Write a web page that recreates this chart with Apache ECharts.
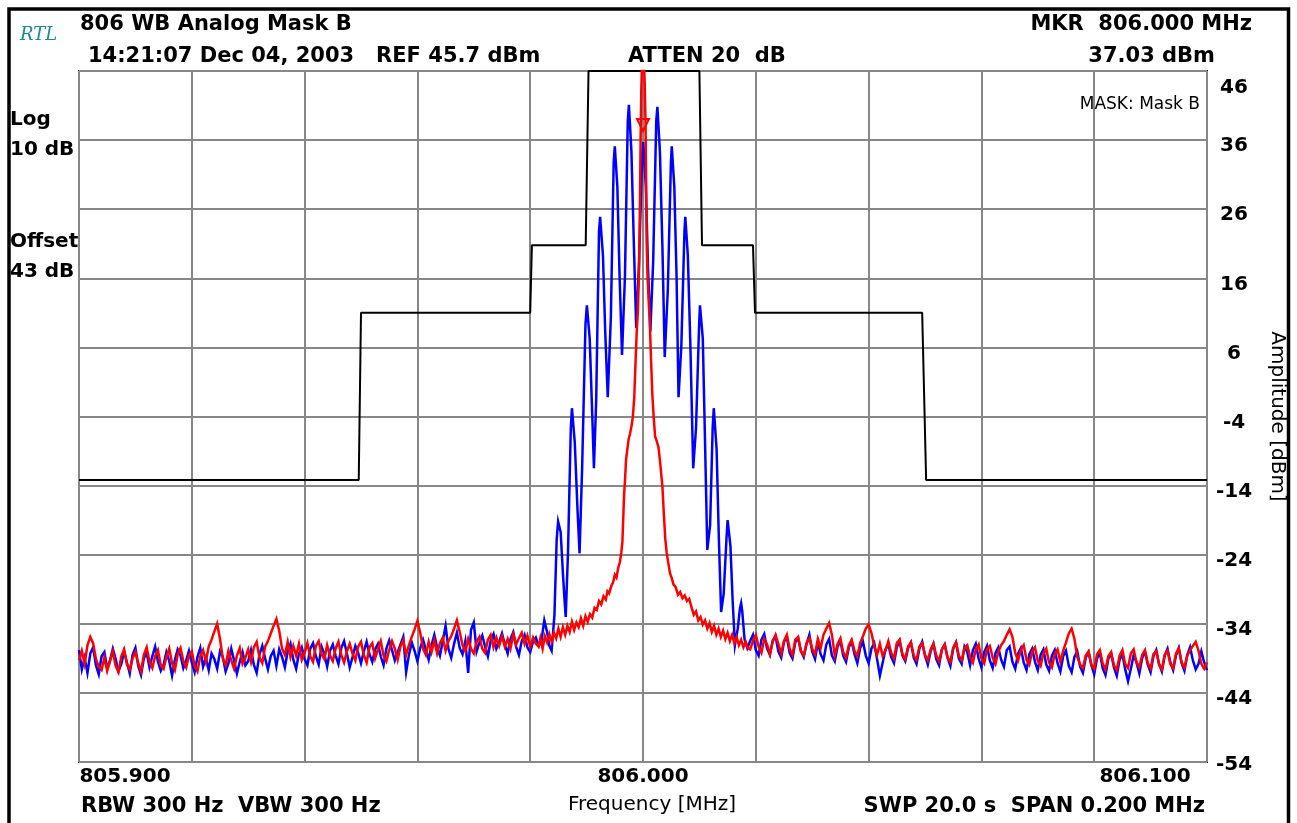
<!DOCTYPE html>
<html>
<head>
<meta charset="utf-8">
<script src="https://cdn.jsdelivr.net/npm/echarts@6/dist/echarts.min.js"></script>
<style>
  html, body { margin: 0; padding: 0; background: #ffffff; }
  #chart { width: 1297px; height: 823px; }
</style>
</head>
<body>
<div id="chart"></div>
<script>
// ---------------- data (frequencies are kHz offsets from 806.000 MHz, levels in dBm) ----------------
const REF_LEVEL_DBM = 45.7;           // top of the screen
const BOTTOM_DBM = REF_LEVEL_DBM - 100; // 10 div x 10 dB
const NOISE_STEP_KHZ = 0.5;
const NOISE_LEFT_START_KHZ = -100;
const NOISE_RIGHT_START_KHZ = 19;

const xLabelValues = [-100, 0, 100];
const xLabelTexts = ['805.900', '806.000', '806.100'];
const yTickLabels = ['-54', '-44', '-34', '-24', '-14', '-4', '6', '16', '26', '36', '46'];

const maskFreq  = [-100, -50.4, -50.0, -20.0, -19.7, -10.16, -9.66, 10.0, 10.46, 19.5, 19.86, 49.5, 50.2, 100];
const maskLevel = [-13.5, -13.5, 10.7, 10.7, 20.5, 20.5, 45.7, 45.7, 20.5, 20.5, 10.7, 10.7, -13.5, -13.5];

const blueNoiseLeft = [
  -38.1,-40.9,-39.2,-41.4,-38.6,-37.7,-40.3,-41.6,-39.0,-38.4,
  -40.8,-39.6,-37.9,-39.4,-41.2,-40.1,-38.3,-39.9,-41.5,-38.8,
  -37.8,-40.4,-41.7,-39.3,-38.5,-40.6,-39.0,-37.6,-39.8,-41.1,
  -40.2,-38.4,-39.7,-41.8,-39.5,-38.0,-38.9,-40.7,-39.6,-38.2,
  -39.9,-41.3,-39.1,-37.8,-40.5,-39.2,-41.0,-38.6,-39.4,-40.8,
  -38.3,-39.1,-41.2,-40.0,-37.9,-39.6,-41.5,-39.8,-38.4,-40.3,
  -39.7,-38.1,-40.2,-41.4,-38.7,-37.5,-39.3,-40.9,-39.0,-38.2,
  -40.4,-38.0,-39.1,-40.6,-38.3,-37.2,-39.5,-40.8,-38.6,-37.7,
  -39.4,-40.3,-37.9,-37.1,-39.0,-40.2,-37.6,-38.7,-40.5,-38.2,
  -37.3,-38.9,-40.1,-37.8,-36.8,-38.6,-40.6,-39.1,-37.5,-38.5,
  -40.0,-38.3,-36.9,-38.7,-39.8,-38.0,-37.2,-39.0,-40.3,-37.9,
  -36.7,-38.1,-39.6,-38.4,-37.3,-36.2,-41.3,-38.8,-37.0,-38.2,
  -39.7,-37.8,-36.6,-38.1,-39.5,-37.4,-35.9,-37.7,-38.9,-36.8,
  -34.6,-37.9,-39.2,-37.2,-35.6,-37.8,-38.7,-36.8,-41.4,-35.2,
  -34.1,-38.3,-37.0,-36.0,-37.6,-39.0,-36.7,-35.8,-37.9,-36.9,
  -35.7,-37.3,-38.6,-36.5,-35.5,-37.6,-38.8,-36.8,-35.9,-37.7,
  -38.4,-36.9,-36.3
];
const blueComb = [
  [-18.5,-37.5],[-18.0,-36.8],
  [-17.8,-35.5],[-17.5,-33.8],[-17.3,-33.6],[-17.0,-35.5],[-16.6,-37.5],[-16.2,-38.2],
  [-15.7,-33.0],[-15.3,-22.0],[-15.05,-19.5],[-14.85,-19.3],[-14.6,-21.0],[-14.2,-27.0],[-13.9,-31.0],[-13.7,-33.3],
  [-13.3,-24.0],[-12.8,-6.0],[-12.6,-3.1],[-12.4,-3.3],[-12.1,-8.0],[-11.6,-18.0],[-11.25,-24.1],
  [-10.8,-12.0],[-10.2,9.0],[-9.95,11.8],[-9.75,11.6],[-9.45,7.0],[-9.0,-4.0],[-8.7,-11.8],
  [-8.3,-2.0],[-7.8,22.5],[-7.6,24.6],[-7.4,24.4],[-7.1,19.0],[-6.7,8.0],[-6.25,-1.5],
  [-5.7,10.0],[-5.2,32.5],[-5.0,34.8],[-4.85,34.6],[-4.55,29.0],[-4.15,16.0],[-3.72,4.6],
  [-3.2,16.0],[-2.7,38.5],[-2.5,40.8],[-2.35,40.6],[-2.05,34.0],[-1.6,20.0],[-1.2,8.5],
  [-0.7,18.0],[-0.15,33.5],[0.05,35.4],[0.2,35.2],[0.5,29.0],[0.9,17.0],[1.3,8.0],
  [1.8,18.0],[2.35,38.5],[2.55,40.5],[2.7,40.3],[3.0,34.0],[3.45,20.0],[3.85,4.3],
  [4.4,14.0],[4.95,32.5],[5.1,34.8],[5.25,34.6],[5.55,29.0],[5.95,16.0],[6.3,-1.5],
  [6.8,6.0],[7.35,22.5],[7.5,24.6],[7.65,24.4],[7.95,19.0],[8.4,6.0],[8.9,-11.8],
  [9.4,-6.0],[9.95,9.0],[10.1,11.8],[10.3,11.6],[10.6,7.0],[11.0,-8.0],[11.4,-23.6],
  [11.9,-20.0],[12.35,-6.0],[12.55,-3.1],[12.75,-3.3],[13.05,-9.0],[13.45,-22.0],[13.85,-32.6],
  [14.3,-30.0],[14.8,-22.0],[15.0,-19.3],[15.2,-19.5],[15.5,-23.0],[15.9,-31.0],[16.3,-37.4],
  [16.8,-35.0],[17.2,-32.0],[17.4,-31.3],[17.6,-32.5],[18.0,-36.5],[18.5,-37.8]
];
const blueNoiseRight = [
  -36.8,-35.9,-38.1,-38.9,-36.6,-35.8,-37.9,-38.8,-36.7,-36.1,
  -38.3,-39.2,-36.9,-36.2,-38.5,-39.3,-37.0,-36.3,-38.2,-39.1,
  -37.2,-35.9,-38.3,-39.4,-37.0,-38.7,-39.6,-37.3,-36.5,-38.9,
  -39.7,-37.6,-36.8,-38.9,-39.8,-37.7,-36.9,-38.7,-40.0,-37.8,
  -36.9,-38.9,-40.0,-37.9,-37.1,-39.4,-41.8,-39.9,-38.0,-37.3,
  -39.1,-40.0,-37.7,-36.8,-38.9,-39.7,-37.8,-37.0,-39.2,-40.1,
  -37.9,-36.9,-38.9,-40.2,-38.3,-37.2,-39.4,-40.3,-38.0,-37.3,
  -39.2,-40.4,-37.9,-37.0,-39.3,-40.1,-37.6,-38.4,-40.3,-38.1,
  -37.2,-39.3,-40.6,-38.4,-37.5,-39.6,-40.7,-38.5,-37.7,-39.5,
  -40.5,-38.1,-37.6,-39.8,-40.8,-38.6,-37.8,-39.9,-41.0,-38.7,
  -37.9,-39.8,-41.0,-38.8,-38.0,-40.2,-41.1,-38.9,-38.1,-40.0,
  -41.2,-39.0,-38.2,-40.4,-41.3,-39.1,-38.3,-40.5,-41.4,-39.2,
  -38.4,-40.3,-41.6,-39.3,-38.5,-40.7,-41.7,-39.4,-38.6,-40.6,
  -41.8,-39.5,-38.7,-40.9,-42.6,-40.8,-38.8,-39.9,-41.5,-39.3,
  -38.3,-40.2,-41.3,-39.0,-38.1,-40.1,-41.2,-38.9,-37.9,-39.9,
  -41.0,-38.9,-37.8,-40.0,-41.1,-38.8,-37.7,-39.6,-40.9,-40.1,
  -38.3,-39.9,-41.0
];

const redNoiseLeft = [
  -39.6,-38.2,-40.1,-37.4,-36.2,-37.1,-39.4,-40.5,-41.0,-39.2,
  -41.1,-39.7,-38.3,-40.4,-41.3,-39.0,-38.0,-40.2,-40.9,-39.3,
  -38.4,-40.0,-41.2,-38.8,-37.7,-39.8,-40.7,-39.0,-38.1,-40.3,
  -40.8,-39.1,-37.9,-40.0,-41.0,-38.7,-37.8,-39.7,-40.6,-38.9,
  -38.3,-40.4,-41.2,-39.0,-38.1,-39.8,-37.6,-36.6,-35.4,-34.3,
  -36.5,-39.3,-40.3,-38.2,-39.6,-40.8,-38.9,-37.8,-40.1,-39.2,
  -38.0,-39.8,-37.7,-36.9,-39.2,-40.0,-37.6,-36.8,-35.7,-34.6,
  -33.6,-35.3,-37.9,-38.8,-36.9,-39.1,-37.5,-38.9,-37.2,-39.5,
  -38.5,-37.1,-39.0,-39.8,-37.5,-36.8,-38.7,-39.4,-37.4,-38.9,
  -39.7,-37.9,-36.9,-38.8,-39.9,-38.3,-37.2,-38.6,-39.6,-37.6,
  -36.9,-38.8,-39.9,-37.7,-37.1,-39.3,-38.0,-36.8,-38.9,-39.7,
  -38.1,-36.8,-37.9,-39.5,-37.6,-36.7,-38.8,-37.4,-36.2,-35.1,
  -33.9,-35.6,-37.9,-38.8,-36.9,-38.4,-36.7,-38.6,-37.1,-36.3,
  -38.2,-36.8,-36.1,-35.0,-33.8,-35.5,-37.4,-38.3,-36.5,-37.9,
  -38.6,-36.9,-36.2,-37.9,-38.5,-36.6,-35.9,-37.7,-36.3,-37.5,
  -36.1,-37.6,-36.5,-37.9,-35.8,-37.3,-36.4,-35.6,-37.2,-36.0,
  -37.6,-36.3,-37.2
];
const redCenter = [
  [-18.5,-37.6],[-18.2,-36.4],[-17.8,-37.9],[-17.4,-36.1],[-17.0,-37.0],[-16.6,-35.8],[-16.2,-36.9],
  [-15.8,-35.6],[-15.4,-36.4],[-15.0,-35.0],[-14.6,-36.2],[-14.2,-34.8],[-13.8,-35.9],[-13.4,-34.6],
  [-13.0,-35.5],[-12.6,-34.0],[-12.2,-35.2],[-11.8,-34.1],[-11.4,-34.8],[-11.0,-33.5],[-10.6,-34.6],
  [-10.2,-33.2],[-9.8,-34.0],[-9.4,-32.9],[-9.0,-33.4],[-8.6,-32.0],[-8.2,-32.3],[-7.8,-31.0],
  [-7.4,-31.5],[-7.0,-30.3],[-6.6,-30.8],[-6.3,-29.6],[-6.0,-29.9],[-5.6,-28.8],[-5.3,-28.3],
  [-5.0,-27.2],[-4.7,-27.6],[-4.4,-26.2],[-4.1,-25.4],[-3.85,-24.0],[-3.65,-22.4],[-3.5,-19.0],
  [-3.35,-15.5],[-3.2,-13.7],[-3.0,-10.5],[-2.8,-9.2],[-2.55,-7.6],[-2.3,-6.8],[-2.05,-5.7],
  [-1.8,-4.4],[-1.55,-1.5],[-1.3,4.0],[-1.1,8.2],[-0.9,11.0],[-0.7,17.0],[-0.55,26.0],[-0.42,36.0],
  [-0.3,43.0],[-0.15,47.5],[0.0,49.0],[0.15,47.5],[0.3,44.0],[0.45,38.0],[0.55,30.0],[0.65,21.0],
  [0.8,16.0],[1.0,12.5],[1.2,9.5],[1.4,4.5],[1.65,-1.0],[1.9,-4.5],[2.15,-7.2],[2.45,-7.9],
  [2.75,-8.8],[3.0,-10.6],[3.25,-12.8],[3.45,-14.5],[3.7,-18.5],[3.95,-22.0],[4.2,-24.0],[4.5,-25.6],
  [4.8,-27.0],[5.1,-27.7],[5.4,-28.6],[5.8,-29.0],[6.2,-30.1],[6.6,-29.7],[7.0,-30.6],[7.4,-30.2],
  [7.8,-31.0],[8.2,-30.7],[8.6,-31.9],[9.0,-33.0],[9.4,-32.5],[9.8,-33.8],[10.2,-33.3],[10.6,-34.4],
  [11.0,-33.8],[11.4,-35.0],[11.8,-34.2],[12.2,-35.5],[12.6,-34.6],[13.0,-35.9],[13.4,-35.0],
  [13.8,-36.2],[14.2,-35.3],[14.6,-36.5],[15.0,-35.6],[15.4,-36.8],[15.8,-35.9],[16.2,-37.1],
  [16.6,-36.2],[17.0,-37.4],[17.4,-36.6],[17.8,-37.7],[18.2,-36.9],[18.6,-37.8]
];
const redNoiseRight = [
  -38.0,-36.8,-35.9,-37.6,-38.5,-36.5,-37.3,-38.7,-36.9,-35.9,
  -37.2,-38.6,-36.8,-35.9,-37.9,-38.8,-36.6,-36.2,-38.3,-38.9,
  -37.1,-36.4,-37.9,-38.7,-36.5,-37.8,-35.9,-35.0,-34.2,-35.9,
  -38.9,-37.2,-36.4,-38.4,-39.2,-37.4,-36.6,-38.2,-39.0,-37.1,
  -36.1,-35.0,-34.4,-35.6,-37.6,-38.8,-37.2,-39.0,-38.1,-36.8,
  -38.5,-39.3,-37.1,-36.6,-38.7,-39.4,-37.6,-37.0,-38.9,-39.5,
  -37.6,-37.1,-38.8,-39.6,-38.0,-37.2,-38.9,-39.7,-38.0,-37.3,
  -39.2,-39.8,-37.8,-37.0,-38.9,-39.6,-37.8,-37.4,-39.1,-39.9,
  -38.0,-37.3,-39.3,-40.0,-38.0,-37.5,-39.2,-40.1,-38.3,-37.4,
  -36.8,-35.9,-35.1,-36.2,-38.5,-39.6,-38.1,-37.4,-39.5,-40.2,
  -38.3,-37.7,-39.7,-40.4,-38.6,-37.9,-39.9,-40.6,-38.7,-38.0,
  -39.8,-38.2,-37.0,-35.7,-35.0,-36.5,-39.1,-40.2,-40.7,-38.9,
  -38.3,-40.2,-40.8,-38.7,-38.1,-40.0,-40.9,-39.0,-38.4,-40.3,
  -41.0,-38.9,-38.1,-40.1,-40.7,-38.6,-38.0,-39.9,-40.6,-38.8,
  -38.1,-40.0,-40.8,-38.7,-38.3,-40.2,-40.9,-38.8,-38.2,-40.1,
  -40.7,-38.6,-37.9,-39.9,-40.6,-38.9,-38.1,-37.5,-36.9,-38.2,
  -40.1,-40.8,-39.9
];

const markerFreqKHz = 0;
const markerLevelDBm = 37.03;

// ---------------- build series data ----------------
function toScreenUnits(pairs) { // dB above bottom graticule line
  return pairs.map(p => [p[0], +(p[1] - BOTTOM_DBM).toFixed(3)]);
}
function noisePairs(values, start) {
  return values.map((v, i) => [+(start + i * NOISE_STEP_KHZ).toFixed(2), v]);
}
const blueData = toScreenUnits([
  ...noisePairs(blueNoiseLeft, NOISE_LEFT_START_KHZ), ...blueComb, ...noisePairs(blueNoiseRight, NOISE_RIGHT_START_KHZ)
]);
const redData = toScreenUnits([
  ...noisePairs(redNoiseLeft, NOISE_LEFT_START_KHZ), ...redCenter, ...noisePairs(redNoiseRight, NOISE_RIGHT_START_KHZ)
]);
const maskData = toScreenUnits(maskFreq.map((f, i) => [f, maskLevel[i]]));

const FONT = 'DejaVu Sans';
const chart = echarts.init(document.getElementById('chart'), null, { renderer: 'canvas' });

function txt(text, x, y, opts) {
  return {
    type: 'text', silent: true, z: 100,
    style: Object.assign({
      text: text, x: x, y: y,
      fontFamily: FONT, fontSize: 21, fontWeight: 'bold', fill: '#000',
      align: 'left', verticalAlign: 'middle', textAlign: 'left', textVerticalAlign: 'middle'
    }, opts || {})
  };
}

const labelRich = {
  fontFamily: FONT, fontSize: 20, fontWeight: 'bold', color: '#000'
};

chart.setOption({
  animation: false,
  backgroundColor: '#ffffff',
  grid: {
    left: 79, top: 71, width: 1128, height: 691,
    show: true, borderColor: '#000', borderWidth: 2, backgroundColor: '#fff'
  },
  xAxis: {
    type: 'value', min: -100, max: 100, interval: 20,
    axisLine: { show: false }, axisTick: { show: false },
    splitLine: { show: true, lineStyle: { color: '#878787', width: 2 } },
    axisLabel: {
      margin: 5,
      formatter: function (v) {
        const i = xLabelValues.indexOf(Math.round(v));
        if (i < 0) return '';
        const key = i === 0 ? 'l' : (i === xLabelValues.length - 1 ? 'r' : 'c');
        return '{' + key + '|' + xLabelTexts[i] + '}';
      },
      rich: {
        l: Object.assign({ padding: [0, 0, 0, 92] }, labelRich),
        c: Object.assign({ padding: [0, 0, 0, 0] }, labelRich),
        r: Object.assign({ padding: [0, 124, 0, 0] }, labelRich)
      }
    },
    name: 'Frequency [MHz]', nameLocation: 'middle', nameGap: 33,
    nameTextStyle: { fontFamily: FONT, fontSize: 20, color: '#000', padding: [0, 0, 0, 18] }
  },
  yAxis: {
    type: 'value', position: 'right', min: 0, max: 100, interval: 10,
    axisLine: { show: false }, axisTick: { show: false },
    splitLine: { show: true, lineStyle: { color: '#878787', width: 2 } },
    axisLabel: {
      margin: 27, align: 'center',
      formatter: function (v) {
        const i = Math.round(v / 10);
        const key = i === yTickLabels.length - 1 ? 't' : (i === 0 ? 'b' : 'm');
        return '{' + key + '|' + yTickLabels[i] + '}';
      },
      rich: {
        t: Object.assign({ padding: [34, 0, 0, 0] }, labelRich),
        m: Object.assign({ padding: [12, 0, 0, 0] }, labelRich),
        b: Object.assign({ padding: [6, 0, 0, 0] }, labelRich)
      }
    },
    name: 'Amplitude [dBm]', nameLocation: 'middle', nameRotate: -90, nameGap: 60,
    nameTextStyle: { fontFamily: FONT, fontSize: 20, color: '#000' }
  },
  series: [
    {
      name: 'Mask', type: 'line', data: maskData, showSymbol: false, symbol: 'none',
      lineStyle: { color: '#000', width: 2 }, z: 2, silent: true
    },
    {
      name: 'Trace 2', type: 'line', data: blueData, showSymbol: false, symbol: 'none',
      lineStyle: { color: '#0000ff', width: 2.5, join: 'miter' }, z: 3, silent: true
    },
    {
      name: 'Trace 1', type: 'line', data: redData, showSymbol: false, symbol: 'none',
      lineStyle: { color: '#ff0000', width: 2.5, join: 'miter' }, z: 4, silent: true,
      markPoint: {
        silent: true,
        symbol: 'triangle', symbolSize: [12, 12], symbolRotate: 180, symbolOffset: [0, -6],
        itemStyle: { color: 'rgba(255,255,255,0)', borderColor: '#ff0000', borderWidth: 2 },
        label: { show: false },
        data: [{ coord: [markerFreqKHz, markerLevelDBm - BOTTOM_DBM] }]
      }
    }
  ],
  graphic: {
    elements: [
      { type: 'rect', silent: true, z: 0,
        shape: { x: 9, y: 9, width: 1279.5, height: 900 },
        style: { fill: 'none', stroke: '#000', lineWidth: 3.5 } },
      txt('RTL', 20, 35, { fontFamily: 'DejaVu Serif', fontStyle: 'italic', fontWeight: 'normal', fontSize: 18, fill: '#1b8a8a' }),
      txt('806 WB Analog Mask B', 80, 25),
      txt('14:21:07 Dec 04, 2003   REF 45.7 dBm', 88, 57),
      txt('ATTEN 20  dB', 628, 57),
      txt('MKR  806.000 MHz', 1252, 25, { align: 'right', textAlign: 'right' }),
      txt('37.03 dBm', 1215, 57, { align: 'right', textAlign: 'right' }),
      txt('MASK: Mask B', 1200, 105, { fontWeight: 'normal', fontSize: 17, align: 'right', textAlign: 'right' }),
      txt('Log', 10, 120, { fontSize: 20 }),
      txt('10 dB', 10, 150, { fontSize: 20 }),
      txt('Offset', 10, 242, { fontSize: 20 }),
      txt('43 dB', 10, 272, { fontSize: 20 }),
      txt('RBW 300 Hz  VBW 300 Hz', 81, 807),
      txt('SWP 20.0 s  SPAN 0.200 MHz', 1205, 807, { align: 'right', textAlign: 'right' })
    ]
  }
});
</script>
</body>
</html>
